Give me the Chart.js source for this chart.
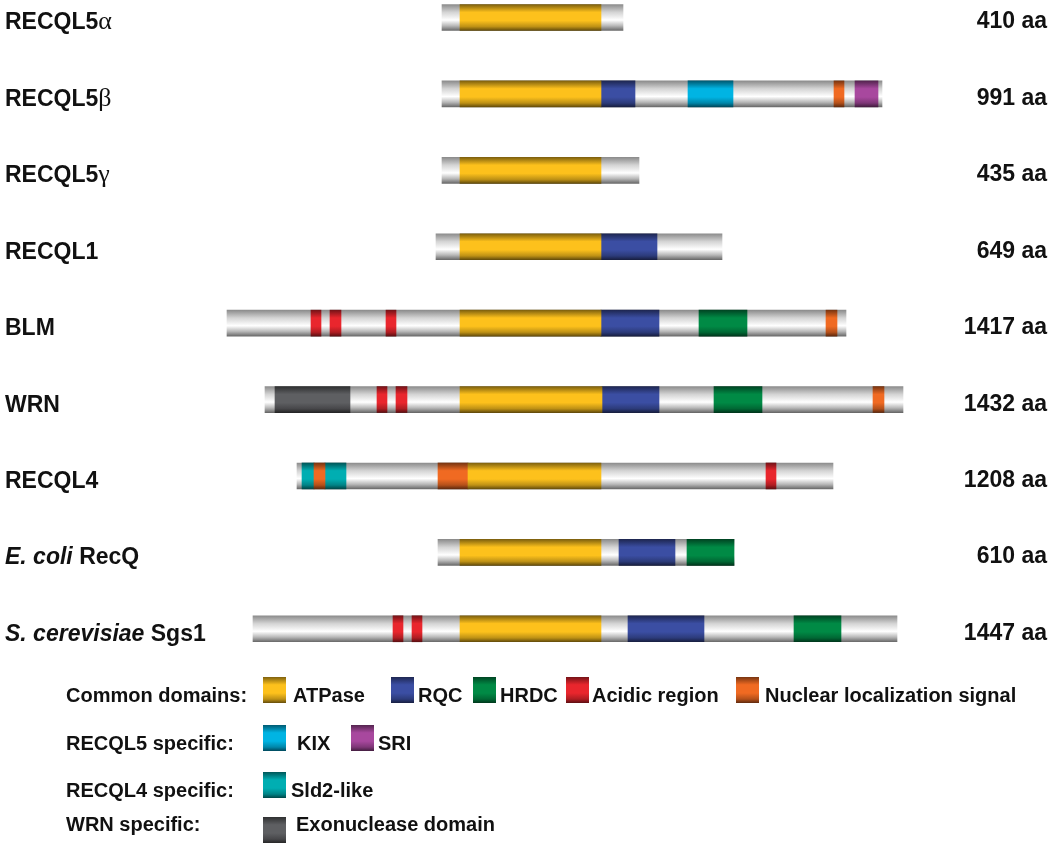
<!DOCTYPE html>
<html><head><meta charset="utf-8">
<script src="https://cdn.jsdelivr.net/npm/chart.js@4.4.1/dist/chart.umd.min.js"></script>
<style>html,body{margin:0;padding:0;background:#fff}#wrap{width:1050px;height:847px;position:relative}</style>
</head><body><div id="wrap"><canvas id="c"></canvas></div>
<script>
// ---- data (schematic positions; rows aligned on ATPase) ----
const proteins = ['RECQL5α','RECQL5β','RECQL5γ','RECQL1','BLM','WRN','RECQL4','E. coli RecQ','S. cerevisiae Sgs1'];
const speciesPrefix = ['','','','','','','','E. coli','S. cerevisiae'];
const lengthLabels = ['410 aa','991 aa','435 aa','649 aa','1417 aa','1432 aa','1208 aa','610 aa','1447 aa'];
// spans: [row, start, end]
const backbone = [[0,442,623],[1,442,882],[2,442,639],[3,436,722],[4,227,846],[5,265,903],[6,297,833],[7,438,734],[8,253,897]];
const atpase = [[0,460,601],[1,460,601],[2,460,601],[3,460,601],[4,460,601],[5,460,602],[6,468,601],[7,460,601],[8,460,601]];
const rqc = [[1,601,635],[3,601,657],[4,601,659],[5,602,659],[7,619,675],[8,628,704]];
const hrdc = [[4,699,747],[5,714,762],[7,687,734],[8,794,841]];
const acidic = [[4,311,321],[4,330,341],[4,386,396],[5,377,387],[5,396,407],[6,766,776],[8,393,403],[8,412,422]];
const nls = [[1,834,844],[4,826,837],[5,873,884],[6,314,325],[6,438,468]];
const kix = [[1,688,733]];
const sri = [[1,855,878]];
const sld2 = [[6,302,314],[6,325,346]];
const exo = [[5,275,350]];
const legendHeadings = ['Common domains:','RECQL5 specific:','RECQL4 specific:','WRN specific:'];
const legendLabels = [['ATPase','RQC','HRDC','Acidic region','Nuclear localization signal'],['KIX','SRI'],['Sld2-like'],['Exonuclease domain']];

// ---- styling ----
const colors = {Backbone:'#d8d8d8', ATPase:'#fdc11c', RQC:'#3b4ea3', HRDC:'#008a45', 'Acidic region':'#e9262d',
  'Nuclear localization signal':'#f06a22', KIX:'#00b4e3', SRI:'#a8489e', 'Sld2-like':'#00aeb2', 'Exonuclease domain':'#5e5f62'};
const BAR_H = 26;
function shade(hex, f){
  const n = parseInt(hex.slice(1),16);
  const r=Math.round(((n>>16)&255)*f), g=Math.round(((n>>8)&255)*f), b=Math.round((n&255)*f);
  return `rgb(${r},${g},${b})`;
}
function makeGrad(c, top, h, name){
  const g = c.createLinearGradient(0, top, 0, top+h);
  if (name === 'Backbone'){
    g.addColorStop(0,'#8c8c8c'); g.addColorStop(0.3,'#d4d4d4'); g.addColorStop(0.6,'#ffffff');
    g.addColorStop(0.82,'#b8b8b8'); g.addColorStop(1,'#6a6a6a');
  } else {
    const col = colors[name];
    g.addColorStop(0, shade(col,0.5)); g.addColorStop(0.3, col); g.addColorStop(0.62, col);
    g.addColorStop(0.85, shade(col,0.75)); g.addColorStop(1, shade(col,0.4));
  }
  return g;
}
function toData(spans){ return spans.map(s => ({y:s[0], x:[s[1], s[2]]})); }
const domainSets = [
  ['ATPase', atpase], ['RQC', rqc], ['HRDC', hrdc], ['Acidic region', acidic],
  ['Nuclear localization signal', nls], ['KIX', kix], ['SRI', sri], ['Sld2-like', sld2], ['Exonuclease domain', exo]
];
function ds(name, spans, order){
  return {
    label: name, data: toData(spans), order: order, grouped: false,
    barThickness: BAR_H, borderWidth: 0, borderSkipped: false,
    backgroundColor: (ctx) => {
      if (ctx.type !== 'data' || !ctx.chart.scales || !ctx.chart.scales.y || !ctx.raw) return colors[name];
      const yc = ctx.chart.scales.y.getPixelForValue(ctx.raw.y);
      if (!isFinite(yc)) return colors[name];
      return makeGrad(ctx.chart.ctx, yc - BAR_H/2, BAR_H, name);
    }
  };
}
const datasets = domainSets.map(d => ds(d[0], d[1], 0));
datasets.push(ds('Backbone', backbone, 1));

const FONT = '"Liberation Sans", Arial, Helvetica, sans-serif';
const textPlugin = {
  id: 'texts',
  afterDraw(chart){
    const c = chart.ctx, ys = chart.scales.y;
    c.save();
    c.fillStyle = '#111';
    c.textBaseline = 'alphabetic';
    proteins.forEach((p, i) => {
      const yb = ys.getPixelForValue(i) + 12;
      let x = 5;
      let rest = p;
      const pre = speciesPrefix[i];
      c.textAlign = 'left';
      if (pre && p.startsWith(pre)){
        c.font = 'italic bold 23px ' + FONT;
        c.fillText(pre, x, yb);
        x += c.measureText(pre + ' ').width;
        rest = p.slice(pre.length).trim();
      }
      const m = rest.match(/^(.*?)([αβγ])$/);
      if (m){
        c.font = 'bold 23px ' + FONT;
        c.fillText(m[1], x, yb);
        x += c.measureText(m[1]).width;
        c.font = '26px "Liberation Serif", "DejaVu Serif", serif';
        c.fillText(m[2], x, yb);
      } else {
        c.font = 'bold 23px ' + FONT;
        c.fillText(rest, x, yb);
      }
      c.textAlign = 'right';
      c.font = 'bold 23px ' + FONT;
      c.fillText(lengthLabels[i], 1047, ys.getPixelForValue(i) + 11);
    });
    // legend
    const baselines = [702, 750, 797, 831];
    const swTop = [677, 725, 772, 817];
    const swX = [[263,391,473,566,736],[263,351],[263],[263]];
    const txX = [[293,418,500,592,765],[297,378],[291],[296]];
    c.textAlign = 'left';
    legendHeadings.forEach((h, r) => {
      c.fillStyle = '#111';
      c.font = 'bold 20px ' + FONT;
      c.fillText(h, 66, baselines[r]);
      legendLabels[r].forEach((lab, k) => {
        const top = swTop[r];
        c.fillStyle = makeGrad(c, top, 26, lab);
        c.fillRect(swX[r][k], top, 23, 26);
        c.fillStyle = '#111';
        c.fillText(lab, txX[r][k], baselines[r]);
      });
    });
    c.restore();
  }
};

new Chart(document.getElementById('c'), {
  type: 'bar',
  data: { datasets },
  options: {
    indexAxis: 'y',
    responsive: true, maintainAspectRatio: false, animation: false,
    layout: { padding: 0 },
    scales: {
      x: { type: 'linear', min: 0, max: 1050, display: false, offset: false },
      y: { type: 'linear', min: -0.229, max: 10.856, reverse: true, display: false, offset: false }
    },
    plugins: { legend: { display: false }, tooltip: { enabled: false } }
  },
  plugins: [textPlugin]
});
</script>
</body></html>
